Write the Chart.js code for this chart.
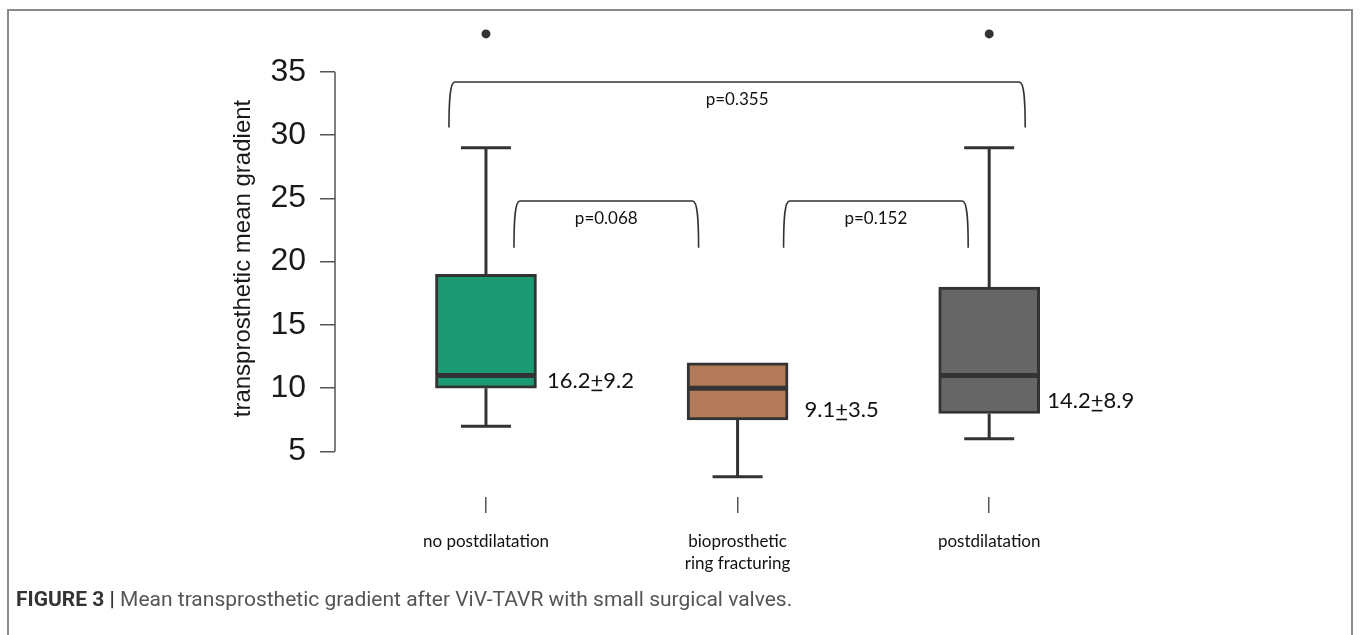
<!DOCTYPE html>
<html>
<head>
<meta charset="utf-8">
<script src="https://cdn.jsdelivr.net/npm/chart.js@4.4.1/dist/chart.umd.min.js"></script>
<style>
  html, body { margin: 0; padding: 0; background: #fff; }
  #wrap { position: relative; width: 1360px; height: 635px; overflow: hidden; }
  #frame { position: absolute; left: 7px; top: 9px; width: 1346px; height: 640px;
           border: 2px solid #8a8a8a; box-sizing: border-box; }
  #chart { position: absolute; left: 0; top: 0; }
  #caption { position: absolute; left: 16px; top: 587px; font-family: "Roboto", sans-serif;
             font-size: 21px; line-height: 24px; color: #555; white-space: nowrap; }
  #caption b { color: #333; }
</style>
</head>
<body>
<div id="wrap">
  <div id="frame"></div>
  <canvas id="chart" width="1360" height="635"></canvas>
  <div id="caption"><b>FIGURE 3 |</b> Mean transprosthetic gradient after ViV-TAVR with small surgical valves.</div>
</div>
<script>
// Groups and their five-number summaries
const categories = ['no postdilatation', ['bioprosthetic', 'ring fracturing'], 'postdilatation'];
const whiskerLow = [7, 3, 6];
const lowerQuartile = [10, 7.5, 8];
const medians = [11, 10, 11];
const upperQuartile = [19, 12, 18];
const whiskerHigh = [29, 12, 29];
const outliers = [[38], [], [38]];
// Mean and standard deviation printed beside each box
const meanValues = ['16.2', '9.1', '14.2'];
const sdValues = ['9.2', '3.5', '8.9'];
// Pairwise comparisons (group indices) and p-values
const pairs = [[0, 2], [0, 1], [1, 2]];
const pValues = ['p=0.355', 'p=0.068', 'p=0.152'];
// Axis ticks
const yTicks = [5, 10, 15, 20, 25, 30, 35];

const boxColors = ['#1b9a74', '#b37a59', '#666666'];
const ink = '#333333';

// placement of the mean±sd text: horizontal offset (px) from box centre, vertical anchor (axis units)
const statLabelPlace = [{ dx: 61, y: 10.6 }, { dx: 67, y: 8.3 }, { dx: 58, y: 9.0 }];
// bracket geometry: leg offsets (px) from group centres, top / leg-end in axis units
const bracketPlace = [
  { l: -37, r: 36, top: 34.2, bottom: 30.6 },
  { l: 28, r: -39, top: 24.8, bottom: 21.1 },
  { l: 46, r: -21, top: 24.8, bottom: 21.1 }
];

const calibri = '"Lato", "Open Sans", sans-serif';

const boxPlotExtras = {
  id: 'boxPlotExtras',
  beforeDatasetsDraw(chart) {
    const { ctx, scales: { x, y } } = chart;
    ctx.save();
    ctx.strokeStyle = ink;
    ctx.lineWidth = 3;
    ctx.lineCap = 'butt';
    categories.forEach((c, i) => {
      const cx = x.getPixelForValue(i + 1);
      const cap = 25;
      ctx.beginPath();
      if (whiskerHigh[i] > upperQuartile[i]) {
        ctx.moveTo(cx, y.getPixelForValue(upperQuartile[i]));
        ctx.lineTo(cx, y.getPixelForValue(whiskerHigh[i]));
        ctx.moveTo(cx - cap, y.getPixelForValue(whiskerHigh[i]));
        ctx.lineTo(cx + cap, y.getPixelForValue(whiskerHigh[i]));
      }
      ctx.moveTo(cx, y.getPixelForValue(lowerQuartile[i]));
      ctx.lineTo(cx, y.getPixelForValue(whiskerLow[i]));
      ctx.moveTo(cx - cap, y.getPixelForValue(whiskerLow[i]));
      ctx.lineTo(cx + cap, y.getPixelForValue(whiskerLow[i]));
      ctx.stroke();
    });
    ctx.restore();
  },
  afterDatasetsDraw(chart) {
    const { ctx, scales: { x, y } } = chart;
    ctx.save();
    const meta = chart.getDatasetMeta(0);
    // medians
    ctx.strokeStyle = ink;
    ctx.lineWidth = 5;
    meta.data.forEach((bar, i) => {
      const half = bar.width / 2;
      const py = y.getPixelForValue(medians[i]);
      ctx.beginPath();
      ctx.moveTo(bar.x - half + 1, py);
      ctx.lineTo(bar.x + half - 1, py);
      ctx.stroke();
    });

    // R-style y axis line spanning the tick range
    ctx.strokeStyle = '#555';
    ctx.lineWidth = 1.5;
    ctx.beginPath();
    ctx.moveTo(x.left, y.getPixelForValue(yTicks[0]));
    ctx.lineTo(x.left, y.getPixelForValue(yTicks[yTicks.length - 1]));
    ctx.stroke();

    // mean ± sd labels
    ctx.fillStyle = '#111';
    ctx.font = '22px ' + calibri;
    ctx.textBaseline = 'middle';
    ctx.textAlign = 'left';
    meanValues.forEach((m, i) => {
      const p = statLabelPlace[i];
      let tx = x.getPixelForValue(i + 1) + p.dx;
      const ty = y.getPixelForValue(p.y);
      ctx.fillText(m, tx, ty);
      tx += ctx.measureText(m).width;
      const pw = ctx.measureText('+').width;
      ctx.fillText('+', tx, ty);
      ctx.fillRect(tx + 1, ty + 9, pw - 2, 1.6);
      tx += pw;
      ctx.fillText(sdValues[i], tx, ty);
    });

    // comparison brackets
    ctx.strokeStyle = ink;
    ctx.lineWidth = 1.6;
    ctx.fillStyle = '#111';
    ctx.font = '17px ' + calibri;
    ctx.textAlign = 'center';
    pairs.forEach((pr, k) => {
      const g = bracketPlace[k];
      const x1 = x.getPixelForValue(pr[0] + 1) + g.l;
      const x2 = x.getPixelForValue(pr[1] + 1) + g.r;
      const yt = y.getPixelForValue(g.top);
      const yb = y.getPixelForValue(g.bottom);
      const h = yb - yt;
      ctx.beginPath();
      ctx.moveTo(x1, yb);
      ctx.bezierCurveTo(x1, yb - h * 0.6, x1 + 1, yt, x1 + 6, yt);
      ctx.lineTo(x2 - 6, yt);
      ctx.bezierCurveTo(x2 - 1, yt, x2, yb - h * 0.6, x2, yb);
      ctx.stroke();
      ctx.fillText(pValues[k], (x1 + x2) / 2, yt + 18);
    });
    ctx.restore();
  }
};

new Chart(document.getElementById('chart'), {
  type: 'bar',
  data: {
    datasets: [
      {
        type: 'bar',
        data: categories.map((c, i) => ({ x: i + 1, y: [lowerQuartile[i], upperQuartile[i]] })),
        backgroundColor: boxColors,
        borderColor: ink,
        borderWidth: 3,
        borderSkipped: false,
        barThickness: 101
      },
      {
        type: 'scatter',
        data: outliers.flatMap((vals, i) => vals.map(v => ({ x: i + 1, y: v }))),
        pointRadius: 4.5,
        pointBackgroundColor: ink,
        pointBorderWidth: 0,
        clip: false
      }
    ]
  },
  options: {
    responsive: false,
    animation: false,
    events: [],
    layout: { padding: { top: 20, left: 0, right: 245, bottom: 48 } },
    plugins: { legend: { display: false }, tooltip: { enabled: false } },
    scales: {
      x: {
        type: 'linear',
        offset: false,
        min: 0.4,
        max: 3.5,
        afterBuildTicks: axis => { axis.ticks = categories.map((c, i) => ({ value: i + 1 })); },
        afterFit: axis => { axis.height = 90; axis.paddingLeft = 0; axis.paddingRight = 0; },
        border: { display: false },
        grid: { offset: false, drawOnChartArea: false, drawTicks: true, tickLength: 16, color: '#555', lineWidth: 1.5 },
        ticks: {
          autoSkip: false,
          maxRotation: 0,
          padding: 17,
          color: '#111',
          font: { family: calibri, size: 17, lineHeight: 1.3 },
          callback: v => categories[v - 1]
        }
      },
      y: {
        min: 1.4,
        max: 39.1,
        afterBuildTicks: axis => { axis.ticks = yTicks.map(v => ({ value: v })); },
        afterFit: axis => { axis.width = 335; axis.paddingTop = 0; axis.paddingBottom = 0; },
        border: { display: false },
        grid: { drawOnChartArea: false, drawTicks: true, tickLength: 15, color: '#555', lineWidth: 1.5 },
        ticks: {
          padding: 14,
          color: '#1a1a1a',
          font: { family: '"Liberation Sans", Arial, sans-serif', size: 32 }
        },
        title: {
          display: true,
          text: 'transprosthetic mean gradient',
          color: '#1a1a1a',
          font: { family: '"Liberation Sans", Arial, sans-serif', size: 24 },
          padding: { top: 229, bottom: 0 }
        }
      }
    }
  },
  plugins: [boxPlotExtras]
});
</script>
</body>
</html>
